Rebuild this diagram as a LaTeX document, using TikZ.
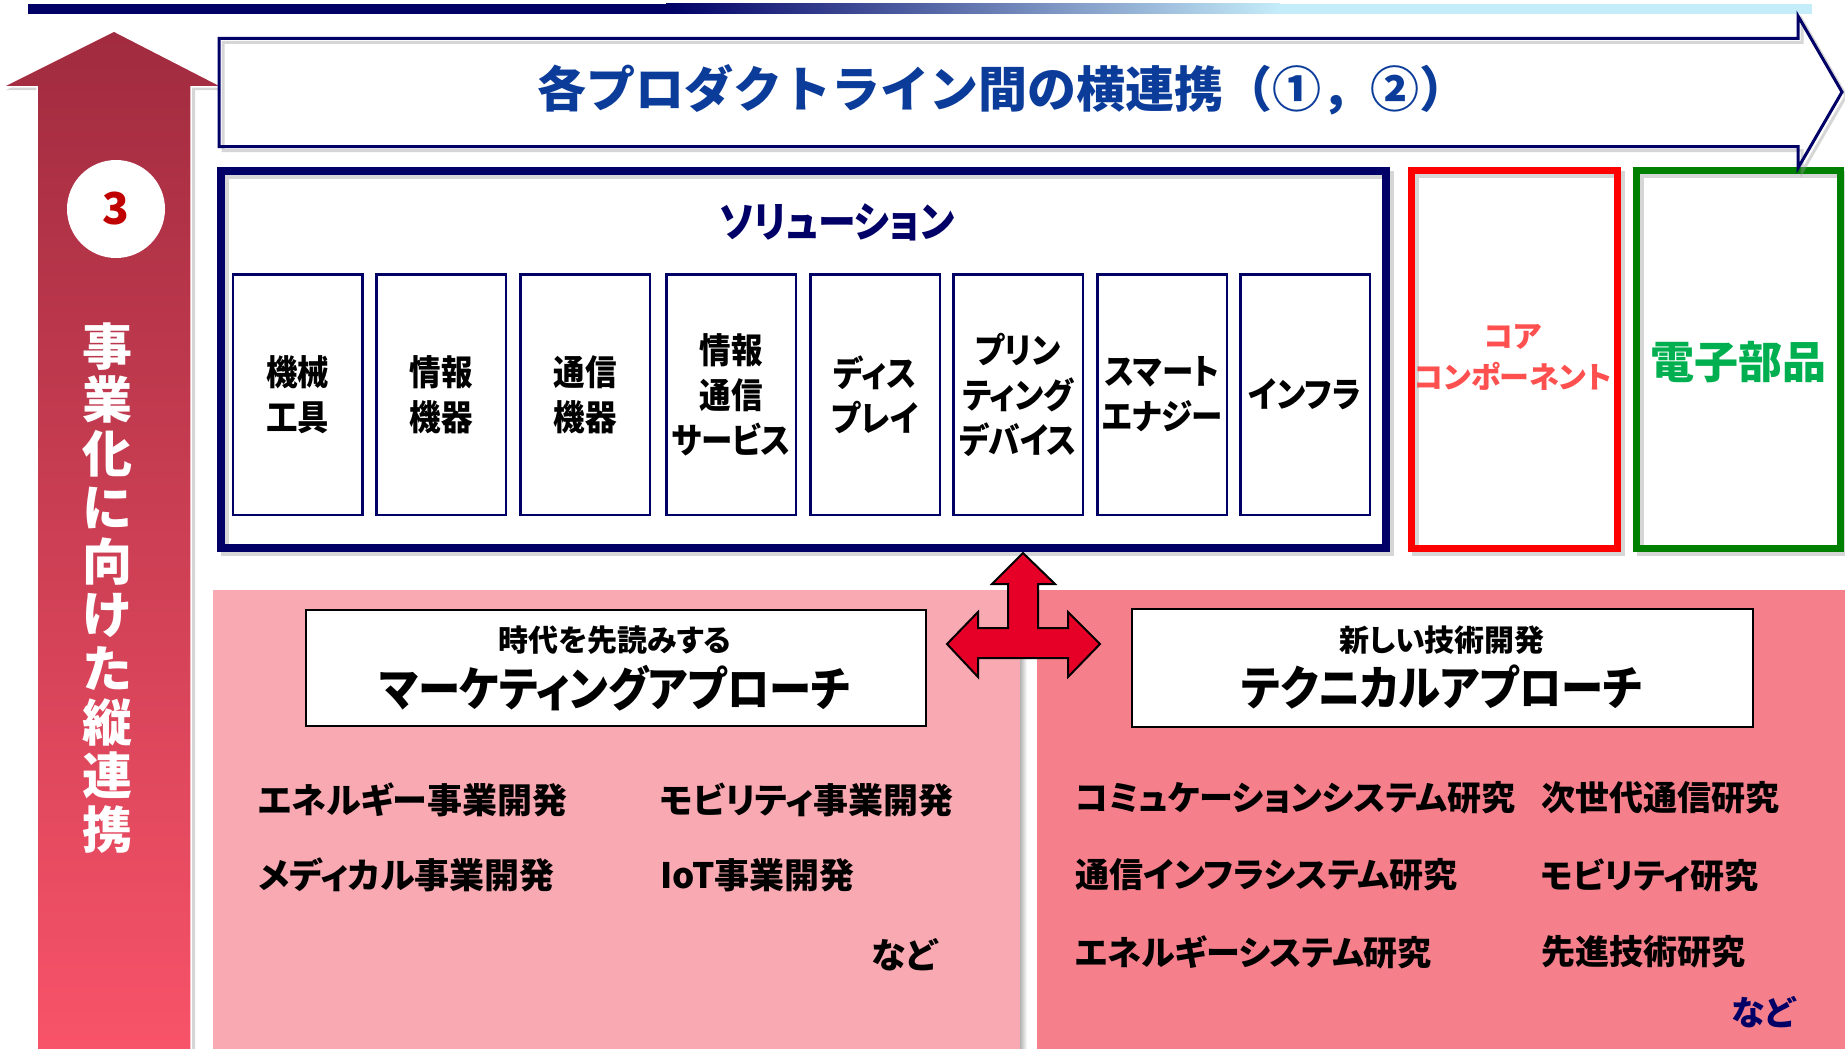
\documentclass[tikz,border=0pt]{standalone}
\usepackage{fontspec}
\newfontfamily\jp[RawFeature=+palt]{Noto Sans CJK JP}
\newfontfamily\jpc[RawFeature=+palt,FakeStretch=0.9]{Noto Sans CJK JP}
\newfontfamily\jpn{Noto Sans CJK JP}
\definecolor{dnavy}{RGB}{0,0,102}
\definecolor{lblue}{RGB}{197,236,249}
\definecolor{bannerblue}{RGB}{11,60,154}
\definecolor{pinkL}{RGB}{249,169,177}
\definecolor{pinkR}{RGB}{245,127,139}
\definecolor{arTop}{RGB}{161,43,63}
\definecolor{arBot}{RGB}{248,83,105}
\definecolor{tri}{RGB}{230,0,40}
\definecolor{redtxt}{RGB}{255,80,80}
\definecolor{greentxt}{RGB}{0,176,80}
\definecolor{gbox}{RGB}{0,128,0}
\definecolor{numred}{RGB}{192,0,0}
\begin{document}
\begin{tikzpicture}[x=1pt,y=-1pt,
  sub/.style={draw=dnavy,line width=2.5,fill=white,minimum width=129.5,minimum height=240.5,inner sep=0pt,align=center,font=\jpc\bfseries\fontsize{35}{45}\selectfont},
  lst/.style={anchor=west,inner sep=0pt,font=\jp\bfseries\fontsize{35}{40}\selectfont},
  tlst/.style={anchor=west,inner sep=0pt,font=\jp\bfseries\fontsize{34}{40}\selectfont},
  shd/.style={draw=black!40,opacity=0.4},
  appbox/.style={draw=black,line width=2,fill=white,inner sep=0pt}
]
\useasboundingbox (0,0) rectangle (1845,1049);
\fill[white] (0,0) rectangle (1845,1049);

% top bar
\fill[dnavy] (28,4) rectangle (667,14);
\shade[left color=dnavy,right color=lblue] (666,4) rectangle (1280,14);
\fill[lblue] (1279,4) rectangle (1812,14);

% lower panels
\fill[pinkL] (213,590) rectangle (1020,1049);
\fill[pinkR] (1037,590) rectangle (1845,1049);
\shade[left color=black!30,right color=white] (1020,590) rectangle (1027,1049);

% vertical up arrow
\fill[black!35,opacity=0.45] (118,34) -- (227,90) -- (195,90) -- (195,1049) -- (41,1049) -- (41,90) -- (6,90) -- cycle;
\shade[top color=arTop,bottom color=arBot,draw=white,line width=1.5]
  (114,31) -- (223,87) -- (191,87) -- (191,1052) -- (37,1052) -- (37,87) -- (2,87) -- cycle;
\node[circle,fill=white,minimum size=98,inner sep=0pt,text=numred,font=\jpn\bfseries\fontsize{44}{44}\selectfont] (num) at (116,209) {3};
\node[align=center,text=white,inner sep=0pt,font=\jpn\bfseries\fontsize{50}{53.7}\selectfont] (vert) at (107,588) {事\\業\\化\\に\\向\\け\\た\\縦\\連\\携};

% solution box
\fill[white] (220.5,171) rectangle (1385.5,548);
\draw[shd,line width=8] (224.5,175) rectangle (1389.5,552);
\node[draw=dnavy,line width=8,minimum width=1165,minimum height=377,inner sep=0pt] (sol) at (803,359.5) {};
\node[text=dnavy,font=\jpc\bfseries\fontsize{42}{42}\selectfont] (soltitle) at (837,222) {ソリューション};

\node[sub] (s1) at (297.5,394.5) {機械\\工具};
\node[sub] (s2) at (441,394.5) {情報\\機器};
\node[sub] (s3) at (585,394.5) {通信\\機器};
\node[sub] (s4) at (731,394.5) {情報\\通信\\サービス};
\node[sub] (s5) at (875,394.5) {ディス\\プレイ};
\node[sub] (s6) at (1018,394.5) {プリン\\ティング\\デバイス};
\node[sub] (s7) at (1162,394.5) {スマート\\エナジー};
\node[sub] (s8) at (1305,394.5) {インフラ};

% core component / electronic parts boxes
\draw[shd,line width=7] (1415.5,174.5) rectangle (1621.5,552.5);
\node[draw=red,line width=7,minimum width=206,minimum height=378,inner sep=0pt] (core) at (1514.5,359.5) {};
\node[align=center,text=redtxt,font=\jp\bfseries\fontsize{30}{41}\selectfont] (coretxt) at (1513,357) {コア\\コンポーネント};
\draw[shd,line width=7] (1640.5,174.5) rectangle (1844.5,552.5);
\node[draw=gbox,line width=7,minimum width=204,minimum height=378,inner sep=0pt] (elec) at (1738.5,359.5) {};
\node[text=greentxt,font=\jpn\bfseries\fontsize{44}{44}\selectfont] (electxt) at (1738,362) {電子部品};

% banner arrow
\fill[white] (219,38.5) -- (1798,38.5) -- (1798,16) -- (1842,92) -- (1798,168) -- (1798,146.5) -- (219,146.5) -- cycle;
\draw[shd,line width=3] (223,42.5) -- (1802,42.5) -- (1802,20) -- (1846,96) -- (1802,172) -- (1802,150.5) -- (223,150.5) -- cycle;
\draw[dnavy,line width=3,line join=miter] (219,38.5) -- (1798,38.5) -- (1798,16) -- (1842,92) -- (1798,168) -- (1798,146.5) -- (219,146.5) -- cycle;
\node[text=bannerblue,font=\jpn\bfseries\fontsize{49}{49}\selectfont] (banner) at (1003,90) {各プロダクトライン間の横連携（①，②）};

% approach boxes
\node[appbox,minimum width=620,minimum height=116] (mkt) at (616,668) {};
\node[font=\jp\bfseries\fontsize{30}{30}\selectfont] (mkt1) at (615,640) {時代を先読みする};
\node[font=\jpc\bfseries\fontsize{47}{47}\selectfont] (mkt2) at (615,688) {マーケティングアプローチ};
\node[appbox,minimum width=621,minimum height=118] (tec) at (1442.5,668) {};
\node[font=\jp\bfseries\fontsize{30}{30}\selectfont] (tec1) at (1442,640) {新しい技術開発};
\node[font=\jpc\bfseries\fontsize{47}{47}\selectfont] (tec2) at (1442,687) {テクニカルアプローチ};

% three-way arrow
\draw[fill=tri,draw=black,line width=2,line join=miter] (1023,553) -- (1055,584) -- (1038,584) -- (1038,628) -- (1068,628) -- (1068,612) -- (1100,644) -- (1068,677) -- (1068,658) -- (978,658) -- (978,677) -- (947,644) -- (978,612) -- (978,628) -- (1008,628) -- (1008,584) -- (992,584) -- cycle;

% marketing list
\node[lst] (m1) at (258,800) {エネルギー事業開発};
\node[lst] (m2) at (660,800) {モビリティ事業開発};
\node[lst] (m3) at (258,875) {メディカル事業開発};
\node[lst] (m4) at (660,875) {IoT事業開発};
\node[lst,anchor=east] (m5) at (937,955) {など};

% technical list
\node[tlst] (t1) at (1075,798) {コミュケーションシステム研究};
\node[tlst] (t2) at (1541,798) {次世代通信研究};
\node[tlst] (t3) at (1075,875) {通信インフラシステム研究};
\node[tlst] (t4) at (1541,875) {モビリティ研究};
\node[tlst] (t5) at (1075,952) {エネルギーシステム研究};
\node[tlst] (t6) at (1541,952) {先進技術研究};
\node[tlst,anchor=east,text=dnavy] (t7) at (1795,1012) {など};
\end{tikzpicture}
\end{document}
